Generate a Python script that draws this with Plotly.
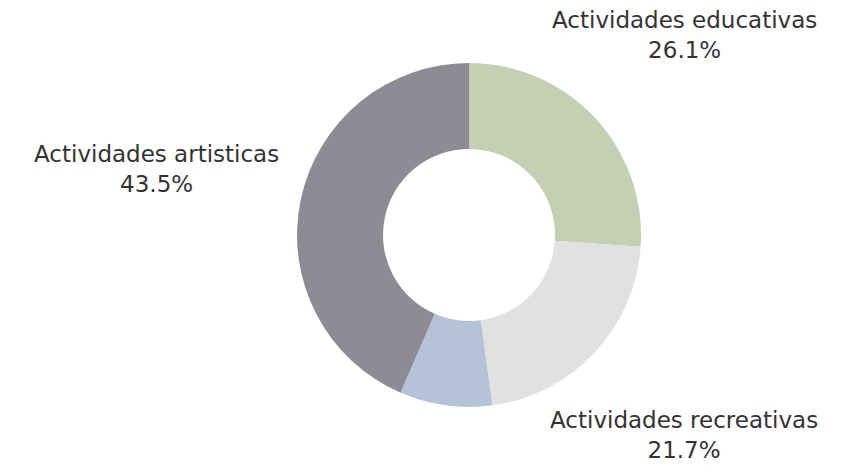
import plotly.graph_objects as go

categories = ["Actividades educativas", "Actividades recreativas", "Otras", "Actividades artisticas"]
values = [6, 5, 2, 10]
colors = ["#c4cfb4", "#e0e1e0", "#b5c3d9", "#8f8b95"]
show_label = [True, True, False, True]

total = sum(values)
pcts = [v / total * 100 for v in values]

fig = go.Figure(go.Pie(
    labels=categories,
    values=values,
    hole=0.5,
    sort=False,
    direction="clockwise",
    rotation=0,
    marker=dict(colors=colors, line=dict(width=0)),
    textinfo="none",
    hoverinfo="label+percent",
    domain=dict(x=[0.3357, 0.7352], y=[0.1438, 0.882]),
    showlegend=False,
))

# label block centers, figure pixels from top-left
label_pos = {
    "Actividades educativas": (676, 27),
    "Actividades recreativas": (676, 427),
    "Actividades artisticas": (148, 161),
}
font = dict(family="'DejaVu Sans', sans-serif", size=23, color="#333333")
for cat, p, show in zip(categories, pcts, show_label):
    if not show:
        continue
    x, y = label_pos[cat]
    fig.add_annotation(
        x=x / 861, y=1 - y / 466, xref="paper", yref="paper",
        text=f"{cat}<br>{p:.1f}%", showarrow=False, font=font,
        xanchor="center", yanchor="middle", align="center",
    )

fig.update_layout(
    width=861, height=466,
    margin=dict(l=0, r=0, t=0, b=0),
    paper_bgcolor="white", plot_bgcolor="white",
)
fig.write_html("out.html")
